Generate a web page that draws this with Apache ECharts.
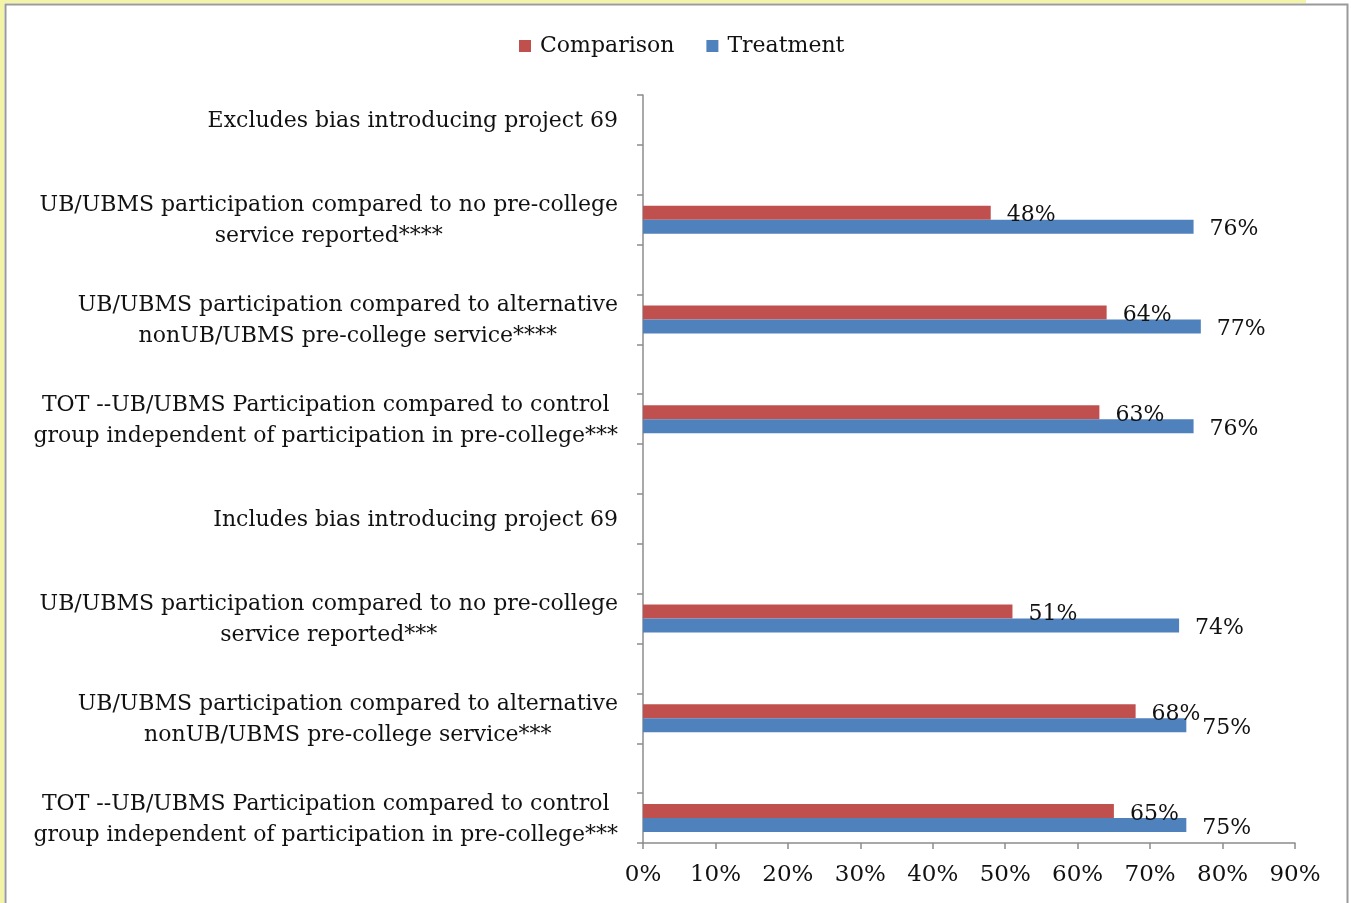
<!DOCTYPE html>
<html>
<head>
<meta charset="utf-8">
<script src="https://cdn.jsdelivr.net/npm/echarts@6/dist/echarts.min.js"></script>
<style>
  html, body { margin: 0; padding: 0; background: #ffffff; }
  #chart { width: 1351px; height: 903px; }
</style>
</head>
<body>
<div id="chart"></div>
<script>
// Category rows, top to bottom; blank entries are spacer rows between groups.
const categories = [
  'Excludes bias introducing project 69',
  '',
  'UB/UBMS participation compared to no pre-college\nservice reported****',
  '',
  'UB/UBMS participation compared to alternative\nnonUB/UBMS pre-college service****',
  '',
  'TOT --UB/UBMS Participation compared to control\ngroup independent of participation in pre-college***',
  '',
  'Includes bias introducing project 69',
  '',
  'UB/UBMS participation compared to no pre-college\nservice reported***',
  '',
  'UB/UBMS participation compared to alternative\nnonUB/UBMS pre-college service***',
  '',
  'TOT --UB/UBMS Participation compared to control\ngroup independent of participation in pre-college***'
];

// Percentages per row (null = no bar)
const comparison = [null, null, 48, null, 64, null, 63, null, null, null, 51, null, 68, null, 65];
const treatment  = [null, null, 76, null, 77, null, 76, null, null, null, 74, null, 75, null, 75];

// Value-axis ticks (percent)
const xTicks = [0, 10, 20, 30, 40, 50, 60, 70, 80, 90];

const FONT = 'DejaVu Serif';
const FS = 22;
const INK = '#111111';
const chart = echarts.init(document.getElementById('chart'), null, { renderer: 'canvas' });

const labelStyle = {
  show: true,
  position: 'right',
  distance: 16,
  offset: [0, 3],
  fontFamily: FONT,
  fontSize: FS,
  color: INK,
  formatter: p => p.value + '%'
};

chart.setOption({
  animation: false,
  backgroundColor: '#ffffff',
  textStyle: { fontFamily: FONT },
  legend: {
    top: 30,
    left: 514,
    itemWidth: 12,
    itemHeight: 12,
    itemGap: 32,
    icon: 'rect',
    textStyle: { fontFamily: FONT, fontSize: FS, color: INK, padding: [0, 0, 0, 4] },
    data: ['Comparison', 'Treatment']
  },
  grid: { left: 643, right: 56, top: 95, bottom: 60, containLabel: false },
  xAxis: {
    type: 'value',
    min: xTicks[0],
    max: xTicks[xTicks.length - 1],
    interval: 10,
    axisLine: { show: true, lineStyle: { color: '#8c8c8c', width: 1.5 } },
    axisTick: { show: true, length: 6, lineStyle: { color: '#8c8c8c', width: 1.5 } },
    splitLine: { show: false },
    axisLabel: {
      fontFamily: FONT, fontSize: 23, color: INK, margin: 21,
      formatter: v => v + '%'
    }
  },
  yAxis: {
    type: 'category',
    inverse: true,
    data: categories,
    axisLine: { show: true, lineStyle: { color: '#8c8c8c', width: 1.5 } },
    axisTick: { show: true, length: 6, interval: 0, lineStyle: { color: '#8c8c8c', width: 1.5 } },
    axisLabel: {
      interval: 0,
      margin: 25,
      align: 'right',
      fontFamily: FONT,
      fontSize: FS,
      color: INK,
      lineHeight: 31,
      formatter: v => v.split('\n').map(s => '{c|' + s + '}').join('\n'),
      rich: { c: { align: 'center', fontFamily: FONT, fontSize: FS, lineHeight: 31, color: INK, padding: [3, 0, 0, 0] } }
    }
  },
  series: [
    {
      name: 'Comparison',
      type: 'bar',
      data: comparison,
      barWidth: 14,
      barGap: '0%',
      itemStyle: { color: '#C0504D' },
      label: labelStyle
    },
    {
      name: 'Treatment',
      type: 'bar',
      data: treatment,
      barWidth: 14,
      barGap: '0%',
      itemStyle: { color: '#4F81BD' },
      label: labelStyle
    }
  ],
  graphic: [
    { type: 'rect', silent: true, shape: { x: 0, y: 0, width: 1306, height: 3 }, style: { fill: '#f4f4a6' } },
    { type: 'rect', silent: true, shape: { x: 0, y: 0, width: 4, height: 903 }, style: { fill: '#f4f4a6' } },
    { type: 'rect', silent: true, shape: { x: 5.5, y: 4.5, width: 1342, height: 910 }, style: { fill: 'none', stroke: '#9a9a9a', lineWidth: 2 } }
  ]
});
</script>
</body>
</html>
